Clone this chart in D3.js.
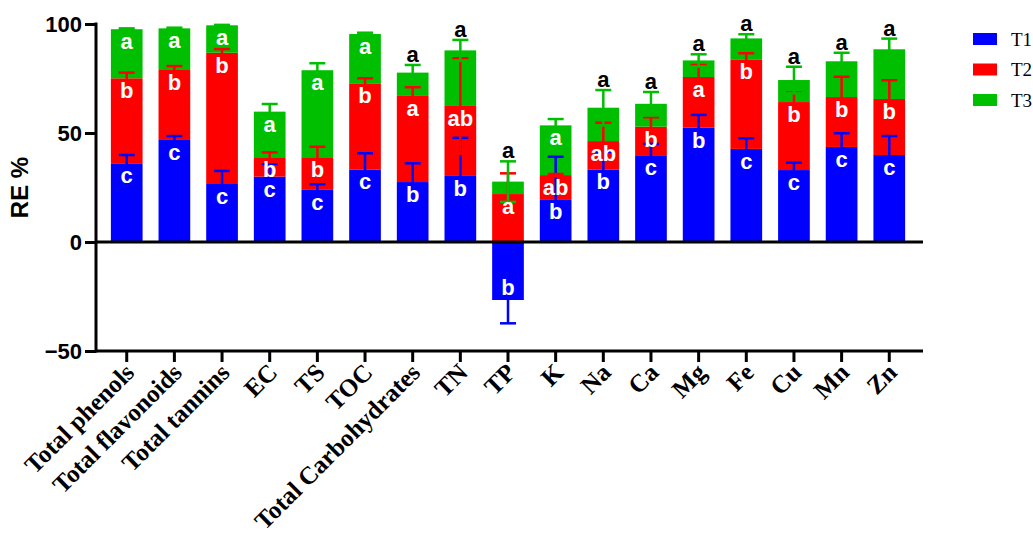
<!DOCTYPE html>
<html>
<head>
<meta charset="utf-8">
<script src="https://cdn.jsdelivr.net/npm/d3@7/dist/d3.min.js"></script>
<style>
  html, body { margin: 0; padding: 0; background: #fff; }
  svg { display: block; }
</style>
</head>
<body>
<svg id="chart" width="1033" height="536"></svg>
<script>
// Removal efficiency (RE %) per parameter, split into treatment contributions
const categories = ["Total phenols", "Total flavonoids", "Total tannins", "EC", "TS", "TOC",
  "Total Carbohydrates", "TN", "TP", "K", "Na", "Ca", "Mg", "Fe", "Cu", "Mn", "Zn"];
const seriesNames = ["T1", "T2", "T3"];

const t1 = [36.1, 46.8, 26.6, 30.0, 23.9, 33.3, 27.5, 30.3, -26.6, 19.6, 33.3, 39.8, 52.4, 42.7, 33.0, 43.6, 39.9];
const t2 = [39.0, 32.1, 60.2, 8.9, 15.0, 39.5, 39.5, 32.1, 22.0, 11.1, 13.0, 13.1, 23.3, 41.1, 31.2, 22.9, 25.7];
const t3 = [22.5, 19.1, 12.6, 20.9, 39.9, 22.6, 10.7, 25.5, 5.7, 22.8, 15.3, 10.5, 7.6, 9.6, 10.1, 16.4, 22.8];

// Standard deviations for each segment
const t1Sd = [3.8, 1.8, 6.0, 5.8, 2.6, 7.4, 8.6, 17.5, 10.7, 19.5, 8.0, 5.2, 5.9, 4.9, 3.4, 6.3, 8.7];
const t2Sd = [2.6, 1.8, 1.7, 2.2, 4.8, 2.3, 4.0, 21.9, 9.5, 0.5, 8.4, 4.3, 5.5, 2.8, 4.3, 9.3, 8.6];
const t3Sd = [0.4, 0.3, 0.2, 3.5, 3.2, 0.6, 3.5, 4.8, 9.3, 2.9, 8.1, 5.4, 2.8, 1.9, 6.1, 3.9, 4.9];

// Significance letters
const t1Letters = ["c", "c", "c", "c", "c", "c", "b", "b", "b", "b", "b", "c", "b", "c", "c", "c", "c"];
const t2Letters = ["b", "b", "b", "b", "b", "b", "a", "ab", "a", "ab", "ab", "b", "a", "b", "b", "b", "b"];
const t3Letters = ["a", "a", "a", "a", "a", "a", "a", "a", "a", "a", "a", "a", "a", "a", "a", "a", "a"];
// Parameters whose T3 letter is printed above the error bar instead of inside the bar
const t3LetterAbove = ["Total Carbohydrates", "TN", "TP", "Na", "Ca", "Mg", "Fe", "Cu", "Mn", "Zn"];

const yTicks = [-50, 0, 50, 100];

const colors = { T1: "#0000ff", T2: "#ff0000", T3: "#00bf00" };

const rows = categories.map((c, i) => ({
  category: c, T1: t1[i], T2: t2[i], T3: t3[i],
  sd: { T1: t1Sd[i], T2: t2Sd[i], T3: t3Sd[i] },
  letters: { T1: t1Letters[i], T2: t2Letters[i], T3: t3Letters[i] }
}));

const svg = d3.select("#chart");

const x = d3.scaleBand()
  .domain(categories)
  .range([102.9, 913.1])
  .paddingInner(0.335)
  .paddingOuter(0.1675);

const y = d3.scaleLinear().domain([-50, 100]).range([351, 24]);

const stacked = d3.stack()
  .keys(seriesNames)
  .offset(d3.stackOffsetDiverging)(rows);

const sansBold = "'Liberation Sans', Arial, sans-serif";
const serif = "'Liberation Serif', 'Times New Roman', serif";

// Bars
const layers = svg.append("g").selectAll("g")
  .data(stacked).join("g")
  .attr("fill", d => colors[d.key]);

layers.selectAll("rect")
  .data(d => d.map(s => ({ key: d.key, s })))
  .join("rect")
  .attr("x", d => x(d.s.data.category))
  .attr("width", x.bandwidth())
  .attr("y", d => y(Math.max(d.s[0], d.s[1])))
  .attr("height", d => Math.abs(y(d.s[0]) - y(d.s[1])));

// Error bars: symmetric about the outer end of each segment
const capW = 16;
const errData = [];
stacked.forEach(layer => {
  layer.forEach(s => {
    const row = s.data;
    const v = row[layer.key];
    const end = v < 0 ? s[0] : s[1];
    const sd = row.sd[layer.key];
    errData.push({ key: layer.key, cat: row.category, end, lo: end - sd, hi: end + sd, neg: v < 0 });
  });
});

const errG = svg.append("g").attr("stroke-width", 2.5).attr("fill", "none");
errData.forEach(e => {
  const cx = x(e.cat) + x.bandwidth() / 2;
  const g = errG.append("g").attr("stroke", colors[e.key]);
  g.append("line").attr("x1", cx).attr("x2", cx).attr("y1", y(e.lo)).attr("y2", y(e.hi));
  g.append("line").attr("x1", cx - capW / 2).attr("x2", cx + capW / 2).attr("y1", y(e.hi)).attr("y2", y(e.hi));
  g.append("line").attr("x1", cx - capW / 2).attr("x2", cx + capW / 2).attr("y1", y(e.lo)).attr("y2", y(e.lo));
});

// Axes
const axisG = svg.append("g");
const x0 = 96, x1 = 923;

// y axis
const yAxis = d3.axisLeft(y).tickValues(yTicks).tickSize(11).tickPadding(3).tickFormat(d3.format("d"));
const yg = axisG.append("g").attr("transform", `translate(${x0},0)`).call(yAxis);
yg.select(".domain").remove();
yg.append("line").attr("x1", 0).attr("x2", 0).attr("y1", y(100) - 1.5).attr("y2", y(-50) + 1.5)
  .attr("stroke", "#000").attr("stroke-width", 3);
yg.selectAll(".tick line").attr("stroke", "#000").attr("stroke-width", 3);
yg.selectAll(".tick text")
  .attr("font-family", sansBold).attr("font-weight", "bold").attr("font-size", 22).attr("fill", "#000");

// zero line
axisG.append("line").attr("x1", x0).attr("x2", x1).attr("y1", y(0)).attr("y2", y(0))
  .attr("stroke", "#000").attr("stroke-width", 3);

// bottom axis with category ticks
const xAxis = d3.axisBottom(x).tickSize(11).tickFormat("");
const xg = axisG.append("g").attr("transform", `translate(0,${y(-50)})`).call(xAxis);
xg.select(".domain").remove();
xg.append("line").attr("x1", x0).attr("x2", x1).attr("y1", 0).attr("y2", 0)
  .attr("stroke", "#000").attr("stroke-width", 3);
xg.selectAll(".tick line").attr("stroke", "#000").attr("stroke-width", 3);

// rotated category labels
svg.append("g").selectAll("text")
  .data(categories).join("text")
  .attr("transform", d => `translate(${x(d) + x.bandwidth() / 2 + 9},${y(-50) + 23}) rotate(-45)`)
  .attr("text-anchor", "end")
  .attr("font-family", serif).attr("font-weight", "bold").attr("font-size", 25)
  .attr("fill", "#000")
  .text(d => d);

// y axis title
svg.append("text")
  .attr("transform", `translate(28,${(y(100) + y(-50)) / 2}) rotate(-90)`)
  .attr("text-anchor", "middle")
  .attr("font-family", sansBold).attr("font-weight", "bold").attr("font-size", 24)
  .text("RE %");

// Significance letters
const letterG = svg.append("g")
  .attr("font-family", sansBold).attr("font-weight", "bold").attr("font-size", 22)
  .attr("text-anchor", "middle");
stacked.forEach(layer => {
  layer.forEach(s => {
    const row = s.data;
    const key = layer.key;
    const v = row[key];
    const cx = x(row.category) + x.bandwidth() / 2;
    const letter = row.letters[key];
    if (key === "T3" && t3LetterAbove.includes(row.category)) {
      const top = s[1] + row.sd[key];
      letterG.append("text").attr("x", cx).attr("y", y(top) - 3).attr("fill", "#000").text(letter);
    } else if (v < 0) {
      letterG.append("text").attr("x", cx).attr("y", y(s[0]) - 5).attr("fill", "#fff").text(letter);
    } else {
      letterG.append("text").attr("x", cx).attr("y", y(s[1]) + 20).attr("fill", "#fff").text(letter);
    }
  });
});

// Legend
const legend = svg.append("g").attr("transform", "translate(973,33)");
seriesNames.forEach((k, i) => {
  const g = legend.append("g").attr("transform", `translate(0,${i * 30.5})`);
  g.append("rect").attr("width", 24).attr("height", 12).attr("fill", colors[k]);
  g.append("text").attr("x", 38).attr("y", 12.5)
    .attr("font-family", serif).attr("font-size", 19).attr("fill", "#000").text(k);
});
</script>
</body>
</html>
